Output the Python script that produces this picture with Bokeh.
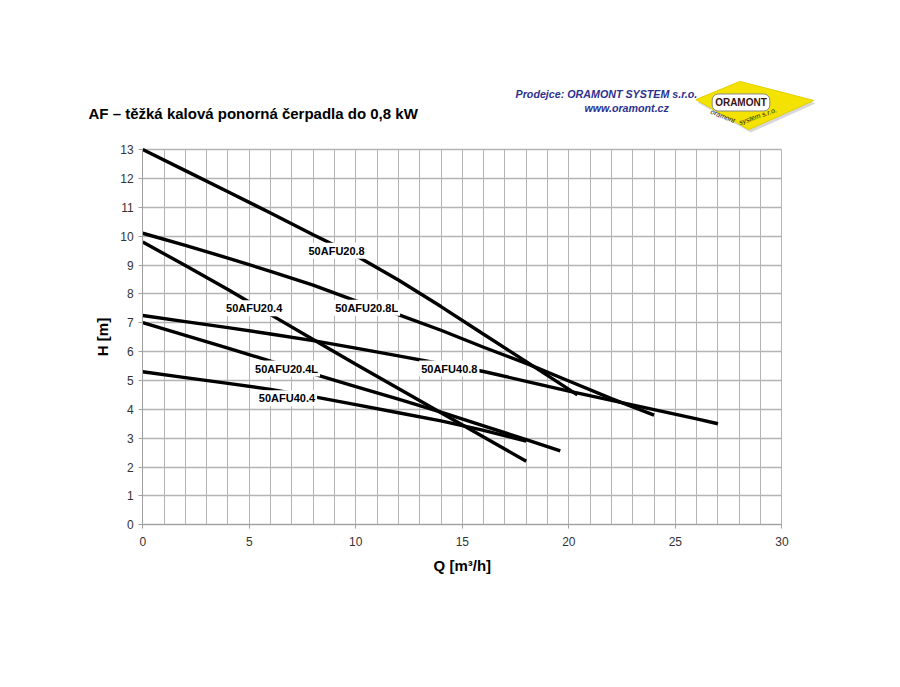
from bokeh.plotting import figure
from bokeh.models import Range1d, FixedTicker, Label, PolyAnnotation
from bokeh.embed import file_html
from bokeh.resources import INLINE

# ---------------- data ----------------
q_20_8 = [0, 2, 4, 6, 8, 10, 12, 14, 16, 18, 20.4]
h_20_8 = [13.0, 12.27, 11.54, 10.8, 10.05, 9.33, 8.48, 7.56, 6.6, 5.65, 4.5]

q_20_8L = [0, 2, 4, 6, 8, 10, 12, 14, 16, 18, 20, 22, 24]
h_20_8L = [10.1, 9.68, 9.24, 8.78, 8.3, 7.76, 7.28, 6.74, 6.15, 5.59, 4.98, 4.37, 3.8]

q_20_4 = [0, 2, 4, 6, 8, 10, 12, 14, 16, 18]
h_20_4 = [9.8, 8.98, 8.15, 7.28, 6.42, 5.56, 4.72, 3.88, 3.04, 2.2]

q_20_4L = [0, 2, 4, 6, 8, 10, 12, 14, 16, 18, 19.6]
h_20_4L = [7.0, 6.56, 6.12, 5.67, 5.23, 4.79, 4.35, 3.9, 3.43, 2.95, 2.56]

q_40_8 = [0, 2, 4, 6, 8, 10, 12, 14, 16, 18, 20, 22, 24, 26, 27]
h_40_8 = [7.25, 7.04, 6.83, 6.61, 6.38, 6.12, 5.85, 5.58, 5.31, 4.97, 4.63, 4.31, 3.99, 3.67, 3.5]

q_40_4 = [0, 2, 4, 6, 8, 10, 12, 14, 16, 18]
h_40_4 = [5.3, 5.1, 4.9, 4.69, 4.44, 4.16, 3.88, 3.6, 3.27, 2.9]

label_names = ["50AFU20.8", "50AFU20.4", "50AFU20.8L", "50AFU20.4L", "50AFU40.8", "50AFU40.4"]
label_q = [9.10, 5.23, 10.51, 6.75, 14.39, 6.77]
label_h = [9.49, 7.50, 7.52, 5.41, 5.41, 4.38]

x_ticks = [0, 5, 10, 15, 20, 25, 30]
y_ticks = list(range(0, 14))
x_grid = list(range(0, 31))
q_limits = (0, 30)
h_limits = (0, 13)

title_text = "AF \u2013 t\u011b\u017ek\u00e1 kalov\u00e1 ponorn\u00e1 \u010derpadla do 0,8 kW"
dealer_text = "Prodejce: ORAMONT SYSTEM s.r.o."
web_text = "www.oramont.cz"
logo_text = "ORAMONT"
x_title = "Q [m\u00b3/h]"
y_title = "H [m]"

FONT = "Liberation Sans"

# frame extended around the chart window so the heading and logo share the canvas;
# axes and grid are bounded to the actual chart window 0..30 x 0..13
p = figure(width=884, height=671, x_range=Range1d(-4, 32), y_range=Range1d(-2, 15.6),
           output_backend="svg", toolbar_location=None,
           min_border_left=57, min_border_right=60, min_border_top=74, min_border_bottom=89)
p.background_fill_color = "white"
p.border_fill_color = "white"
p.outline_line_color = None

p.xgrid.ticker = FixedTicker(ticks=x_grid)
p.ygrid.ticker = FixedTicker(ticks=y_ticks)
p.xgrid.bounds = q_limits
p.ygrid.bounds = h_limits
p.xgrid.cross_bounds = h_limits
p.ygrid.cross_bounds = q_limits
p.xgrid.grid_line_color = "#b4b4b4"
p.ygrid.grid_line_color = "#b4b4b4"
p.ygrid.grid_line_width = 1.3

p.xaxis.ticker = FixedTicker(ticks=x_ticks)
p.yaxis.ticker = FixedTicker(ticks=y_ticks)
p.xaxis.bounds = q_limits
p.yaxis.bounds = h_limits
p.xaxis.fixed_location = 0
p.yaxis.fixed_location = 0
for ax in (p.xaxis, p.yaxis):
    ax.axis_line_color = "#a0a0a0"
    ax.major_tick_line_color = "#a0a0a0"
    ax.major_tick_out = 4
    ax.major_tick_in = 0
    ax.minor_tick_out = 0
    ax.minor_tick_in = 0
    ax.major_label_text_font = FONT
    ax.major_label_text_font_size = "12px"
    ax.major_label_text_color = "#333333"
    ax.axis_label_text_font = FONT
    ax.axis_label_text_font_style = "bold"
    ax.axis_label_text_font_size = "15px"
    ax.axis_label_text_color = "black"
p.xaxis.major_label_standoff = 8
p.yaxis.major_label_standoff = 5
p.yaxis.axis_label = y_title
p.yaxis.axis_label_standoff = 6

# x-axis title centred under the 0..30 window
p.add_layout(Label(x=sum(q_limits) / 2, y=-1.41, text=x_title, text_font=FONT,
                   text_font_style="bold", text_font_size="15px", text_color="black",
                   text_align="center", text_baseline="middle"))

curves = [(q_20_8, h_20_8), (q_20_8L, h_20_8L), (q_20_4, h_20_4),
          (q_20_4L, h_20_4L), (q_40_8, h_40_8), (q_40_4, h_40_4)]
for qs, hs in curves:
    p.line(qs, hs, line_color="black", line_width=3.4)

for name, qx, hy in zip(label_names, label_q, label_h):
    p.add_layout(Label(x=qx, y=hy, text=name, text_font=FONT, text_font_style="bold",
                       text_font_size="11px", text_color="black", text_align="center",
                       text_baseline="middle", background_fill_color="white", padding=2))

# ---------------- heading + dealer logo ----------------
p.add_layout(Label(x=-2.544, y=14.25, text=title_text, text_font=FONT, text_font_style="bold",
                   text_font_size="15px", text_color="black", text_align="left",
                   text_baseline="middle"))
p.add_layout(Label(x=17.50, y=14.94, text=dealer_text, text_font=FONT,
                   text_font_style="bold italic", text_font_size="10.7px", text_color="#2e3190",
                   text_align="left", text_baseline="middle"))
p.add_layout(Label(x=20.73, y=14.45, text=web_text, text_font=FONT,
                   text_font_style="bold italic", text_font_size="10.7px", text_color="#2e3190",
                   text_align="left", text_baseline="middle"))

p.add_layout(PolyAnnotation(xs=[26.05, 28.12, 31.59, 28.54], ys=[14.63, 15.26, 14.60, 13.59],
                            fill_color="#bdbdbd", fill_alpha=0.6, line_color=None))
p.add_layout(PolyAnnotation(xs=[25.96, 28.03, 31.50, 28.45], ys=[14.73, 15.36, 14.70, 13.69],
                            fill_color="#f4e200", fill_alpha=1.0, line_color="#e2d000", line_alpha=1.0))
p.add_layout(Label(x=28.08, y=14.63, text=logo_text, text_font=FONT, text_font_style="bold",
                   text_font_size="10px", text_color="#3a1212", text_align="center",
                   text_baseline="middle", background_fill_color="white",
                   border_line_color="#8a8a8a", border_radius=6, padding=3))
p.add_layout(Label(x=27.23, y=14.16, text="oramont", text_font=FONT, text_font_style="italic",
                   text_font_size="7px", text_color="#222222", text_align="center",
                   text_baseline="middle", angle=-0.38))
p.add_layout(Label(x=28.87, y=14.16, text="system s.r.o.", text_font=FONT, text_font_style="italic",
                   text_font_size="7px", text_color="#222222", text_align="center",
                   text_baseline="middle", angle=0.34))

open("out.html", "w").write(file_html(p, INLINE))
